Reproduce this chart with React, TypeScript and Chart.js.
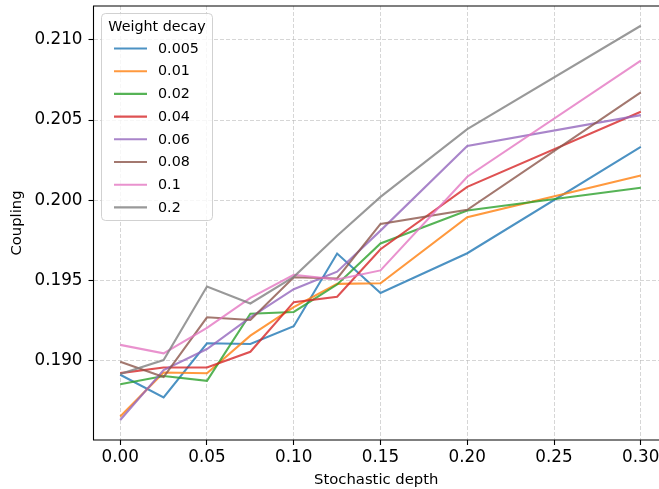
import { useEffect, useRef } from "react";
import { Chart, registerables } from "chart.js";

Chart.register(...registerables);

const stochasticDepth = [0, 0.025, 0.05, 0.075, 0.1, 0.125, 0.15, 0.2, 0.3];
const weightDecayLabels = ["0.005", "0.01", "0.02", "0.04", "0.06", "0.08", "0.1", "0.2"];

const wd0005 = [0.18913, 0.18771, 0.19109, 0.19104, 0.19215, 0.19668, 0.19422, 0.1967, 0.20333];
const wd001 = [0.18652, 0.18927, 0.18922, 0.19156, 0.19334, 0.19479, 0.19483, 0.19895, 0.20155];
const wd002 = [0.18854, 0.18905, 0.18875, 0.19293, 0.19304, 0.19475, 0.19731, 0.19937, 0.20078];
const wd004 = [0.18923, 0.18958, 0.18958, 0.19056, 0.19365, 0.19399, 0.19695, 0.20084, 0.20552];
const wd006 = [0.18631, 0.18942, 0.19073, 0.1927, 0.19446, 0.19555, 0.19811, 0.20338, 0.20531];
const wd008 = [0.18994, 0.18898, 0.19271, 0.19254, 0.1952, 0.19513, 0.19853, 0.19941, 0.20673];
const wd01 = [0.19099, 0.19046, 0.19205, 0.19392, 0.19536, 0.19506, 0.19563, 0.20147, 0.20871];
const wd02 = [0.18917, 0.19004, 0.19463, 0.19357, 0.19523, 0.19779, 0.20021, 0.20444, 0.21088];

const seriesValues = [wd0005, wd001, wd002, wd004, wd006, wd008, wd01, wd02];

const xTicks = [0, 0.05, 0.1, 0.15, 0.2, 0.25, 0.3];
const yTicks = [0.19, 0.195, 0.2, 0.205, 0.21];

const seriesColors = [
  "rgba(31,119,180,0.8)",
  "rgba(255,127,14,0.8)",
  "rgba(44,160,44,0.8)",
  "rgba(214,39,40,0.8)",
  "rgba(148,103,189,0.8)",
  "rgba(140,86,75,0.8)",
  "rgba(227,119,194,0.8)",
  "rgba(127,127,127,0.8)",
];

const FONT = '"DejaVu Sans", sans-serif';

const overlayPlugin = {
  id: "overlay",
  afterDraw(chart: any) {
    const ctx = chart.ctx as CanvasRenderingContext2D;
    const a = chart.chartArea;
    ctx.save();
    // frame (left, top, bottom)
    ctx.strokeStyle = "#000";
    ctx.lineWidth = 1.1;
    ctx.beginPath();
    ctx.moveTo(a.right + 2, a.top);
    ctx.lineTo(a.left, a.top);
    ctx.lineTo(a.left, a.bottom);
    ctx.lineTo(a.right + 2, a.bottom);
    ctx.stroke();

    // legend
    const bx = 101.5, by = 13.5, bw = 111, bh = 207, r = 4;
    ctx.beginPath();
    ctx.moveTo(bx + r, by);
    ctx.arcTo(bx + bw, by, bx + bw, by + bh, r);
    ctx.arcTo(bx + bw, by + bh, bx, by + bh, r);
    ctx.arcTo(bx, by + bh, bx, by, r);
    ctx.arcTo(bx, by, bx + bw, by, r);
    ctx.closePath();
    ctx.fillStyle = "rgba(255,255,255,0.8)";
    ctx.fill();
    ctx.strokeStyle = "rgba(204,204,204,0.9)";
    ctx.lineWidth = 1;
    ctx.stroke();

    ctx.fillStyle = "#000";
    ctx.font = `14.3px ${FONT}`;
    ctx.textBaseline = "middle";
    ctx.textAlign = "center";
    ctx.fillText("Weight decay", bx + bw / 2, 27);
    ctx.textAlign = "left";
    weightDecayLabels.forEach((lab, i) => {
      const y = 48.5 + i * 22.7;
      ctx.strokeStyle = seriesColors[i];
      ctx.lineWidth = 2.1;
      ctx.beginPath();
      ctx.moveTo(114, y);
      ctx.lineTo(147, y);
      ctx.stroke();
      ctx.fillStyle = "#000";
      ctx.fillText(lab, 158, y + 0.5);
    });
    ctx.restore();
  },
};

export default function App() {
  const ref = useRef<HTMLCanvasElement>(null);
  useEffect(() => {
    const chart = new Chart(ref.current!, {
      type: "line",
      data: {
        datasets: weightDecayLabels.map((lab, i) => ({
          label: lab,
          data: stochasticDepth.map((x, j) => ({ x, y: seriesValues[i][j] })),
          borderColor: seriesColors[i],
          backgroundColor: seriesColors[i],
          borderWidth: 2.1,
          pointRadius: 0,
          tension: 0,
          fill: false,
          order: weightDecayLabels.length - i,
        })),
      },
      options: {
        animation: false,
        responsive: false,
        maintainAspectRatio: false,
        devicePixelRatio: 1,
        layout: { padding: { top: 6, left: 0, right: 0, bottom: 0 } },
        plugins: {
          legend: { display: false },
          tooltip: { enabled: false },
        },
        scales: {
          x: {
            type: "linear",
            min: -0.0154,
            max: 0.3105,
            afterBuildTicks: (s: any) => {
              s.ticks = xTicks.map((v) => ({ value: v }));
            },
            afterFit: (s: any) => {
              s.height = 49;
              s.paddingLeft = 0;
              s.paddingRight = 0;
            },
            ticks: {
              autoSkip: false,
              maxRotation: 0,
              padding: 3,
              color: "#000",
              font: { family: FONT, size: 16.8 },
              callback: (v: any) => Number(v).toFixed(2),
            },
            grid: {
              color: "rgba(176,176,176,0.65)",
              lineWidth: 0.8,
              tickColor: "#000",
              tickLength: 5,
              tickWidth: 1.1,
              drawTicks: true,
            },
            border: { display: false, dash: [4, 2] },
            title: {
              display: true,
              text: "Stochastic depth",
              color: "#000",
              font: { family: FONT, size: 14.8 },
              padding: { top: 0, bottom: 0 },
            },
          },
          y: {
            type: "linear",
            min: 0.18506,
            max: 0.21211,
            afterBuildTicks: (s: any) => {
              s.ticks = yTicks.map((v) => ({ value: v }));
            },
            afterFit: (s: any) => {
              s.width = 93.5;
              s.paddingTop = 0;
              s.paddingBottom = 0;
            },
            ticks: {
              autoSkip: false,
              padding: 6,
              color: "#000",
              font: { family: FONT, size: 16.8 },
              callback: (v: any) => Number(v).toFixed(3),
            },
            grid: {
              color: "rgba(176,176,176,0.65)",
              lineWidth: 0.8,
              tickColor: "#000",
              tickLength: 5,
              tickWidth: 1.1,
              drawTicks: true,
            },
            border: { display: false, dash: [4, 2] },
            title: {
              display: true,
              text: "Coupling",
              color: "#000",
              font: { family: FONT, size: 14.8 },
              padding: { top: 8.5, bottom: 0 },
            },
          },
        },
      },
      plugins: [overlayPlugin],
    } as any);
    return () => chart.destroy();
  }, []);
  return (
    <div style={{ position: "fixed", left: 0, top: 0, width: 659, height: 489, background: "#fff", overflow: "hidden" }}>
      <canvas ref={ref} width={659} height={489} style={{ display: "block", width: 659, height: 489 }} />
    </div>
  );
}
